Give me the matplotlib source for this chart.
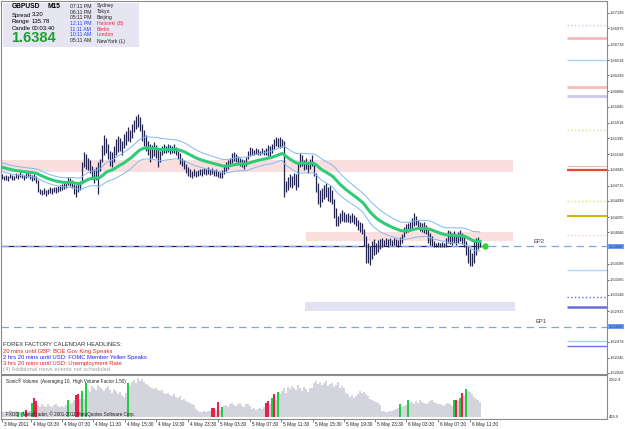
import numpy as np
import pandas as pd
import matplotlib
matplotlib.use('Agg')
import matplotlib.pyplot as plt
from matplotlib.patches import Rectangle
from matplotlib.transforms import blended_transform_factory

plt.rcParams['font.family'] = ['Liberation Sans', 'DejaVu Sans']

#Price bars (M15), pips above 1.6000
highs = [488,486,487,485,489,487,486,490,488,491,489,487,490,492,489,487,488,485,
         480,467,466,468,465,467,469,468,470,469,471,472,474,476,
         478,484,482,480,474,472,476,478,
         505,520,517,512,508,500,495,498,505,510,
         530,544,540,532,522,520,528,538,543,540,535,546,550,
         556,552,560,566,572,574,570,560,552,545,536,532,530,
         534,530,526,522,528,531,529,532,530,528,531,527,522,
         518,512,508,503,498,495,493,495,492,494,496,495,497,495,498,496,497,494,496,493,491,494,
         500,506,508,512,518,520,517,514,512,510,508,513,
         522,527,525,523,526,524,522,525,523,526,530,528,532,538,541,540,541,539,535,
         478,484,488,485,490,488,505,518,515,508,512,506,510,516,
         505,490,475,465,468,472,475,470,473,466,452,440,
         428,432,436,434,431,433,430,432,429,426,422,420,418,410,400,
         390,385,392,395,390,393,395,396,394,397,395,396,394,397,395,393,398,402,
         412,416,418,420,425,432,428,422,420,418,419,415,410,404,400,
         392,390,391,389,391,390,396,408,406,404,407,402,405,408,404,400,
         392,385,380,375,392,396,398,394]
lows = [481,479,480,478,482,480,479,483,481,484,482,480,483,484,481,478,479,476,
        462,459,458,460,457,459,461,460,462,461,463,464,466,467,
        468,472,471,468,460,455,462,466,
        478,498,495,494,490,482,476,480,460,492,
        505,515,518,510,500,498,506,515,520,522,515,525,530,
        535,534,540,548,553,556,550,536,528,522,515,506,512,
        514,512,498,506,516,519,518,520,517,518,519,515,510,
        503,500,495,490,486,484,483,486,484,486,487,486,488,487,489,487,488,486,485,484,482,483,
        488,492,496,500,504,507,505,502,500,498,496,500,
        510,514,515,516,517,516,515,517,515,516,514,512,518,524,528,527,526,527,455,
        462,466,470,468,472,465,470,498,500,494,496,490,495,500,
        485,462,445,441,448,452,455,450,448,445,425,413,
        414,418,421,420,419,420,418,419,417,414,408,405,402,385,360,
        360,358,366,372,374,376,380,384,385,386,384,386,385,387,385,383,386,390,
        398,404,405,406,410,414,415,410,406,405,404,402,390,386,385,
        384,383,384,383,384,383,384,390,388,386,389,386,390,392,388,384,
        372,360,357,356,360,372,380,384]

#Sonic volume histogram
volume = [310,260,340,290,380,320,270,350,
          280,250,260,300,400,330,350,760,1040,880,
          650,560,700,610,520,680,590,540,630,700,580,520,600,560,640,
          920,700,760,900,1180,1260,1000,1410,1000,1860,
          1500,1350,1700,1600,1450,1750,1650,1500,
          1400,1550,1700,1450,1300,1500,1400,
          1250,1350,1200,1100,1300,
          1850,
          1700,1900,2000,1850,2100,1950,2060,1900,1800,1750,
          1620,1550,1500,1580,1450,1400,1480,1300,1250,1320,1200,1150,1230,1100,1050,1120,
          950,1000,880,820,760,700,640,
          420,350,280,250,300,260,320,
          300,490,490,380,800,400,550,
          600,650,520,700,760,640,580,700,760,620,560,680,720,600,
          420,480,380,450,500,430,
          520,770,870,700,1030,1250,900,1380,
          1250,1400,1550,1300,1650,1500,1700,1600,1450,1750,1550,1400,1650,1500,1350,1550,
          1600,1850,1950,1800,
          1900,1750,1850,1950,1700,1800,1850,1650,1750,1900,1600,1700,1550,
          1300,1250,1100,1200,1050,1150,1250,1400,1300,1350,1250,1150,1000,900,850,800,750,650,
          350,300,280,250,330,300,380,420,
          500,700,550,600,650,920,
          750,800,700,850,780,900,820,760,700,780,850,900,820,760,680,720,650,600,700,760,680,620,
          920,920,850,1050,1300,1150,1520,1400,1350,1250,1100,1000,900,800]
green_vol = [8, 10, 15, 33, 40, 42, 63, 110, 135, 138, 199, 203, 226, 229, 232]
red_vol = [12, 16, 17, 37, 38, 105, 106, 108, 132, 133, 136, 227, 230]

#Time axis
time_ticks = [0, 14.5, 30, 45.5, 61.5, 77, 93, 108, 124, 139.5, 155.5, 171, 186.5, 202, 218, 234]
time_labels = ['3 May 2011', '4 May 03:30', '4 May 07:30', '4 May 11:30', '4 May 15:30',
               '4 May 19:30', '4 May 23:30', '5 May 03:30', '5 May 07:30', '5 May 11:30',
               '5 May 15:30', '5 May 19:30', '5 May 23:30', '6 May 03:30', '6 May 07:30',
               '6 May 11:30']

#Price axis
price_ticks = [1.67198, 1.66975, 1.66738, 1.66518, 1.66298, 1.66068, 1.65845, 1.65618,
               1.65395, 1.65168, 1.64945, 1.64715, 1.64498, 1.64265, 1.64048, 1.63598,
               1.63365, 1.63148, 1.62915, 1.62478, 1.62245, 1.62028]

#Levels and zones
bid = 1.6384
ep2 = 1.6385
ep1 = 1.6269
zones = [(-0.5, 255.5, 1.6491, 1.6508), (152, 255.5, 1.6392, 1.6405), (151.5, 256.5, 1.6292, 1.6305)]
side_levels = [1.67021, 1.66835, 1.66519, 1.66132, 1.66002, 1.65515, 1.64998, 1.64941,
               1.64496, 1.64280, 1.64008, 1.63506, 1.63118, 1.62975, 1.62487, 1.62415]

ma_seed = 1.6499
rng_seed = 0.0008

W, H = 625, 429
fig = plt.figure(figsize=(6.25, 4.29), dpi=100)
fig.patch.set_facecolor('white')

def fx(px):
    return px / W

def fy(py):
    return 1 - py / H

ax = fig.add_axes([fx(1), fy(374), 606 / W, 373 / H])
axv = fig.add_axes([fx(1), fy(419), 606 / W, 44 / H])

hi = 1.6 + np.array(highs) / 10000.
lo = 1.6 + np.array(lows) / 10000.
idx = np.arange(len(hi))

#Zones
zone_cols = ['#fbdede', '#fbdede', '#e2e2f2']
for (x0, x1, p0, p1), c in zip(zones, zone_cols):
    ax.add_patch(Rectangle((x0, p0), x1 - x0, p1 - p0, facecolor=c, edgecolor='none', zorder=0.5))

#Side levels at right
side_styles = [('#c8c8e4', 1.0, ':'), ('#f7b8b8', 2.0, '-'), ('#a8d4f4', 1.0, '-'),
               ('#f8bcbc', 2.0, '-'), ('#c8c8f0', 2.0, '-'), ('#dede70', 1.0, ':'),
               ('#f0b8b8', 0.8, '-'), ('#e84830', 1.6, '-'), ('#e0e060', 1.0, ':'),
               ('#c8b400', 1.4, '-'), ('#f0c8d8', 1.0, ':'), ('#b0d8f8', 1.0, '-'),
               ('#5a66e8', 1.0, ':'), ('#6a6ae0', 1.8, '-'), ('#a0d0f8', 1.0, '-'),
               ('#7070e0', 1.0, '-')]
for lev, (c, lw, ls) in zip(side_levels, side_styles):
    ax.hlines(lev, 282.5, 302.5, colors=c, lw=lw, linestyles=ls, zorder=1)

#Bid line and entry levels
ax.hlines(ep2, -0.5, 240, colors='#202050', lw=0.9, zorder=1.5)
ax.axhline(ep2, color='#7aa4f0', lw=0.9, dashes=(6, 4), zorder=1.6)
ax.axhline(ep1, color='#7aa4f0', lw=0.9, dashes=(6, 4), zorder=1.6)
ax.text(265.5, ep2 + 0.0007, 'EP2', fontsize=4.2, color='#404040', va='center')
ax.text(266.5, ep1 + 0.0007, 'EP1', fontsize=4.2, color='#404040', va='center')

#Candles
ax.vlines(idx, lo, hi, colors='#23234f', lw=0.9, zorder=2)

#Moving average and bands
mid = (hi + lo) / 2
ema = pd.Series(np.r_[ma_seed, mid]).ewm(span=34, adjust=False).mean().values[1:]
rng = pd.Series(np.r_[rng_seed, hi - lo]).ewm(span=34, adjust=False).mean().values[1:]
ax.plot(idx, ema + 0.8 * rng, color='#80b8f4', lw=0.7, zorder=3)
ax.plot(idx, ema - 0.8 * rng, color='#80b8f4', lw=0.7, zorder=3)
ax.plot(idx, ema, color='#2ecc78', lw=2.2, zorder=3.5)
ax.plot(241.5, ep2, 'o', color='#22dd22', ms=3.5, zorder=4)

ax.set_xlim(-0.5, 302.5)
ax.set_ylim(1.62013, 1.67366)
ax.yaxis.tick_right()
ax.set_yticks(price_ticks)
ax.set_yticklabels(['%.5f' % p for p in price_ticks])
ax.tick_params(axis='y', labelsize=2.9, length=1.5, pad=0.6, colors='#303030', width=0.5)
ax.set_xticks([])
for s in ax.spines.values():
    s.set_color('#8a8a8a')
    s.set_linewidth(0.8)

#Price highlight boxes
tr = blended_transform_factory(ax.transAxes, ax.transData)
for p, lab in [(bid, '1.63840'), (ep1, '1.62690')]:
    ax.text(1.003, p, lab, transform=tr, fontsize=2.9, color='#1030a0', va='center', ha='left',
            bbox=dict(boxstyle='square,pad=0.12', fc='#6aa0f0', ec='none'), zorder=6, clip_on=False)

#Volume panel
vcol = ['#d4d4dc'] * len(volume)
for i in green_vol:
    vcol[i] = '#22cc44'
for i in red_vol:
    vcol[i] = '#e8204a'
axv.bar(np.arange(len(volume)), volume, width=0.6, color=vcol, linewidth=0)
axv.set_xlim(-0.5, 302.5)
axv.set_ylim(-109, 2281)
axv.yaxis.tick_right()
axv.set_yticks([2062.9, 0])
axv.set_yticklabels(['2062.9', '408.9'])
axv.tick_params(axis='y', labelsize=2.9, length=0, pad=1.5, colors='#303030')
axv.set_xticks(time_ticks)
axv.tick_params(axis='x', length=2, width=0.5, colors='#505050', labelbottom=False)
for s in axv.spines.values():
    s.set_color('#8a8a8a')
    s.set_linewidth(0.8)
trv = blended_transform_factory(axv.transData, axv.transAxes)
for t, lab in zip(time_ticks, time_labels):
    axv.text(t + 0.8, -0.12, lab, transform=trv, fontsize=3.4, color='#202020', va='center', ha='left', clip_on=False)
axv.text(2, 0.86, 'Sonic\u00ae Volume  (Averaging 10,  High Volume Factor 1.50)', fontsize=3.3,
         color='#202020', transform=trv, va='center')
axv.text(2, 0.1, 'FXDD - MetaTrader, \u00a9 2001-2011 MetaQuotes Software Corp.', fontsize=3.3,
         color='#202020', transform=trv, va='center')

#Info box
axi = fig.add_axes([fx(3), fy(47), 136 / W, 44 / H])
axi.set_xlim(3, 139)
axi.set_ylim(47, 3)
axi.set_facecolor('#e6e6f2')
axi.set_xticks([])
axi.set_yticks([])
for s in axi.spines.values():
    s.set_visible(False)
axi.text(12, 6, 'GBPUSD', fontsize=4.8, fontweight='bold', va='center')
axi.text(47, 6, 'M15', fontsize=4.8, fontweight='bold', va='center')
for y, a, b in [(15, 'Spread', '3.20'), (21.7, 'Range', '135.78'), (28.3, 'Candle', '00:03:40')]:
    axi.text(12, y, a, fontsize=4.3, va='center')
    axi.text(32, y, b, fontsize=4.3, va='center')
axi.text(11, 38.5, '1.6384', fontsize=10.5, fontweight='bold', color='#1f9f2f', va='center')
clock_times = ['07:11 PM', '06:11 PM', '05:11 PM', '12:11 PM', '11:11 AM', '10:11 AM', '05:11 AM']
cities = ['Sydney', 'Tokyo', 'Beijing', 'Helsinki (B)', 'Berlin', 'London', 'NewYork (L)']
time_cols = ['#202020', '#202020', '#202020', '#2040ff', '#2040ff', '#2040ff', '#202020']
city_cols = ['#202020', '#202020', '#202020', '#ff2040', '#ff2040', '#ff2040', '#202020']
for k, y in enumerate([6, 12, 17.7, 23.7, 29.3, 35, 41]):
    axi.text(70, y, clock_times[k], fontsize=3.7, color=time_cols[k], va='center')
    axi.text(97, y, cities[k], fontsize=3.7, color=city_cols[k], va='center')

#News block
news = [('FOREX FACTORY CALENDAR HEADLINES:', '#303030', 344),
        ('20 mins until GBP: BOE Gov King Speaks', '#e82020', 351),
        ('2 hrs 20 mins until USD: FOMC Member Yellen Speaks', '#2020ff', 357),
        ('3 hrs 20 mins until USD: Unemployment Rate', '#e82020', 363),
        ('(4) Additional news events not scheduled', '#a0a0a0', 369)]
for txt, c, y in news:
    fig.text(fx(3), fy(y), txt, fontsize=4.2, color=c, va='center')

fig.savefig('out.png', dpi=100)
